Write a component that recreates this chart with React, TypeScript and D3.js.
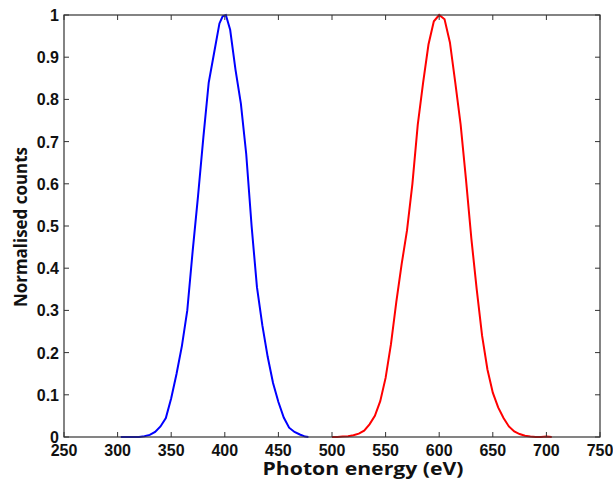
import React from "react";
import * as d3 from "d3";

const blueX = [303, 310, 320, 325, 330, 335, 340, 345, 350, 355, 360, 365, 370, 375, 380, 385, 390, 395, 398, 401, 405, 410, 415, 420, 425, 430, 435, 440, 445, 450, 455, 460, 465, 470, 475, 478];
const blueY = [0, 0, 0, 0.002, 0.005, 0.012, 0.025, 0.045, 0.092, 0.15, 0.216, 0.3, 0.44, 0.57, 0.71, 0.84, 0.91, 0.98, 0.997, 1.0, 0.965, 0.87, 0.79, 0.67, 0.5, 0.355, 0.265, 0.19, 0.128, 0.083, 0.046, 0.022, 0.012, 0.006, 0.001, 0];

const redX = [500, 505, 510, 515, 520, 525, 530, 535, 540, 545, 550, 555, 560, 565, 570, 575, 580, 585, 590, 595, 600, 605, 610, 615, 620, 625, 630, 635, 640, 645, 650, 655, 660, 665, 670, 675, 680, 685, 690, 695, 700, 705];
const redY = [0, 0, 0.001, 0.002, 0.004, 0.008, 0.015, 0.03, 0.05, 0.085, 0.14, 0.22, 0.32, 0.41, 0.49, 0.6, 0.74, 0.84, 0.93, 0.985, 1.0, 0.99, 0.935, 0.84, 0.74, 0.61, 0.47, 0.35, 0.24, 0.16, 0.105, 0.07, 0.045, 0.025, 0.013, 0.007, 0.003, 0.001, 0, 0, 0.001, 0];

const xTicks = [250, 300, 350, 400, 450, 500, 550, 600, 650, 700, 750];
const yTicks = [0, 0.1, 0.2, 0.3, 0.4, 0.5, 0.6, 0.7, 0.8, 0.9, 1];

const W = 613, H = 483;
const L = 64, R = 600, T = 15, B = 437;

export default function App() {
  const x = d3.scaleLinear().domain([250, 750]).range([L, R]);
  const y = d3.scaleLinear().domain([0, 1]).range([B, T]);
  const line = d3.line<[number, number]>().x(d => x(d[0])).y(d => y(d[1]));
  const blue = blueX.map((v, i) => [v, blueY[i]] as [number, number]);
  const red = redX.map((v, i) => [v, redY[i]] as [number, number]);
  const tickFont = "'Liberation Sans', Arial, sans-serif";
  const titleFont = "'Open Sans', Lato, sans-serif";
  const tl = 5;
  return (
    <svg width={W} height={H} style={{ position: "absolute", left: 0, top: 0, background: "#fff" }}>
      <rect x={0} y={0} width={W} height={H} fill="#fff" />
      <path d={line(blue) || ""} fill="none" stroke="#0000ff" strokeWidth={2} />
      <path d={line(red) || ""} fill="none" stroke="#ff0000" strokeWidth={2} />
      <rect x={L} y={T} width={R - L} height={B - T} fill="none" stroke="#333" strokeWidth={1.2} />
      {xTicks.map(t => (
        <g key={"x" + t}>
          <line x1={x(t)} x2={x(t)} y1={B} y2={B - tl} stroke="#333" />
          <line x1={x(t)} x2={x(t)} y1={T} y2={T + tl} stroke="#333" />
          <text x={x(t)} y={456} textAnchor="middle" fontFamily={tickFont} fontWeight="bold" fontSize={16} fill="#111">{t}</text>
        </g>
      ))}
      {yTicks.map(t => (
        <g key={"y" + t}>
          <line x1={L} x2={L + tl} y1={y(t)} y2={y(t)} stroke="#333" />
          <line x1={R} x2={R - tl} y1={y(t)} y2={y(t)} stroke="#333" />
          <text x={59} y={y(t) + 6} textAnchor="end" fontFamily={tickFont} fontWeight="bold" fontSize={16} fill="#111">{t}</text>
        </g>
      ))}
      <text x={363} y={475} textAnchor="middle" fontFamily={titleFont} fontWeight="bold" fontSize={17} textLength={201} lengthAdjust="spacingAndGlyphs" fill="#111">Photon energy (eV)</text>
      <text transform={`translate(27,${227}) rotate(-90)`} textAnchor="middle" fontFamily={titleFont} fontWeight="bold" fontSize={17} textLength={160} lengthAdjust="spacingAndGlyphs" fill="#111">Normalised counts</text>
    </svg>
  );
}
